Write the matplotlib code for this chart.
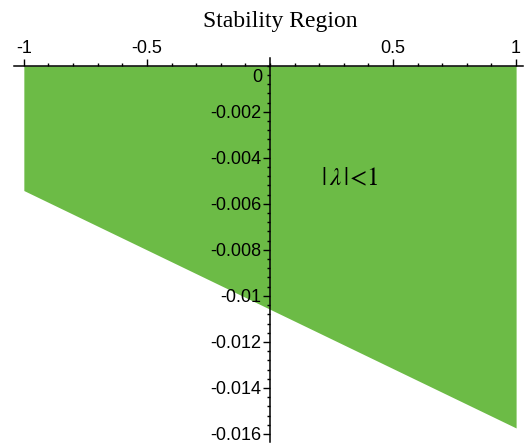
import matplotlib.pyplot as plt
import numpy as np
from matplotlib.ticker import MultipleLocator

# region boundary: green area between y=0 and the slanted line
region_x = [-1, 1]
region_top = [0, 0]
region_bottom = [-0.00542, -0.01574]

x_ticks = [-1, -0.5, 0.5, 1]
x_tick_labels = ['-1', '-0.5', '0.5', '1']
y_ticks = [-0.002, -0.004, -0.006, -0.008, -0.01, -0.012, -0.014, -0.016]
y_tick_labels = ['-0.002', '-0.004', '-0.006', '-0.008', '-0.01', '-0.012', '-0.014', '-0.016']

green = '#6cbb46'

fig = plt.figure(figsize=(5.24, 4.45), dpi=100)
ax = fig.add_axes([14 / 524, 1 - 442 / 445, 509 / 524, 384 / 445])

ax.fill_between(region_x, region_bottom, region_top, color=green, linewidth=0)

ax.set_xlim(-1.04, 1.028)
ax.set_ylim(-0.01635, 0.00034)

# axes through the origin, Maple style
ax.spines['bottom'].set_visible(False)
ax.spines['right'].set_visible(False)
ax.spines['top'].set_position(('data', 0))
ax.spines['left'].set_position(('data', 0))
for s in ['top', 'left']:
    ax.spines[s].set_linewidth(1.1)
    ax.spines[s].set_zorder(5)

ax.xaxis.set_ticks_position('top')
ax.xaxis.set_label_position('top')
ax.set_xticks(x_ticks)
ax.set_xticklabels(x_tick_labels)
ax.xaxis.set_minor_locator(MultipleLocator(0.1))

ax.set_yticks(y_ticks)
ax.set_yticklabels(y_tick_labels)
ax.yaxis.set_minor_locator(MultipleLocator(0.0004))

ax.tick_params(which='major', direction='out', length=5, width=1, labelsize=13, pad=1)
ax.tick_params(which='minor', direction='out', length=2.5, width=1)
for lab in ax.get_xticklabels() + ax.get_yticklabels():
    lab.set_fontfamily('Liberation Sans')

# zero label sits just below the horizontal axis
ax.text(-0.03, -0.00015, '0', ha='right', va='top', fontsize=13, family='Liberation Sans')

plt.rcParams['mathtext.fontset'] = 'stix'
ax.text(0.325, -0.0049, r'$|\,\lambda\,|\!<\!1$', ha='center', va='center', fontsize=18)

fig.text(280 / 524, 1 - 22 / 445, 'Stability Region', ha='center', va='center',
         fontsize=17, family='Liberation Serif')

plt.savefig('out.png', dpi=100)
plt.close()
